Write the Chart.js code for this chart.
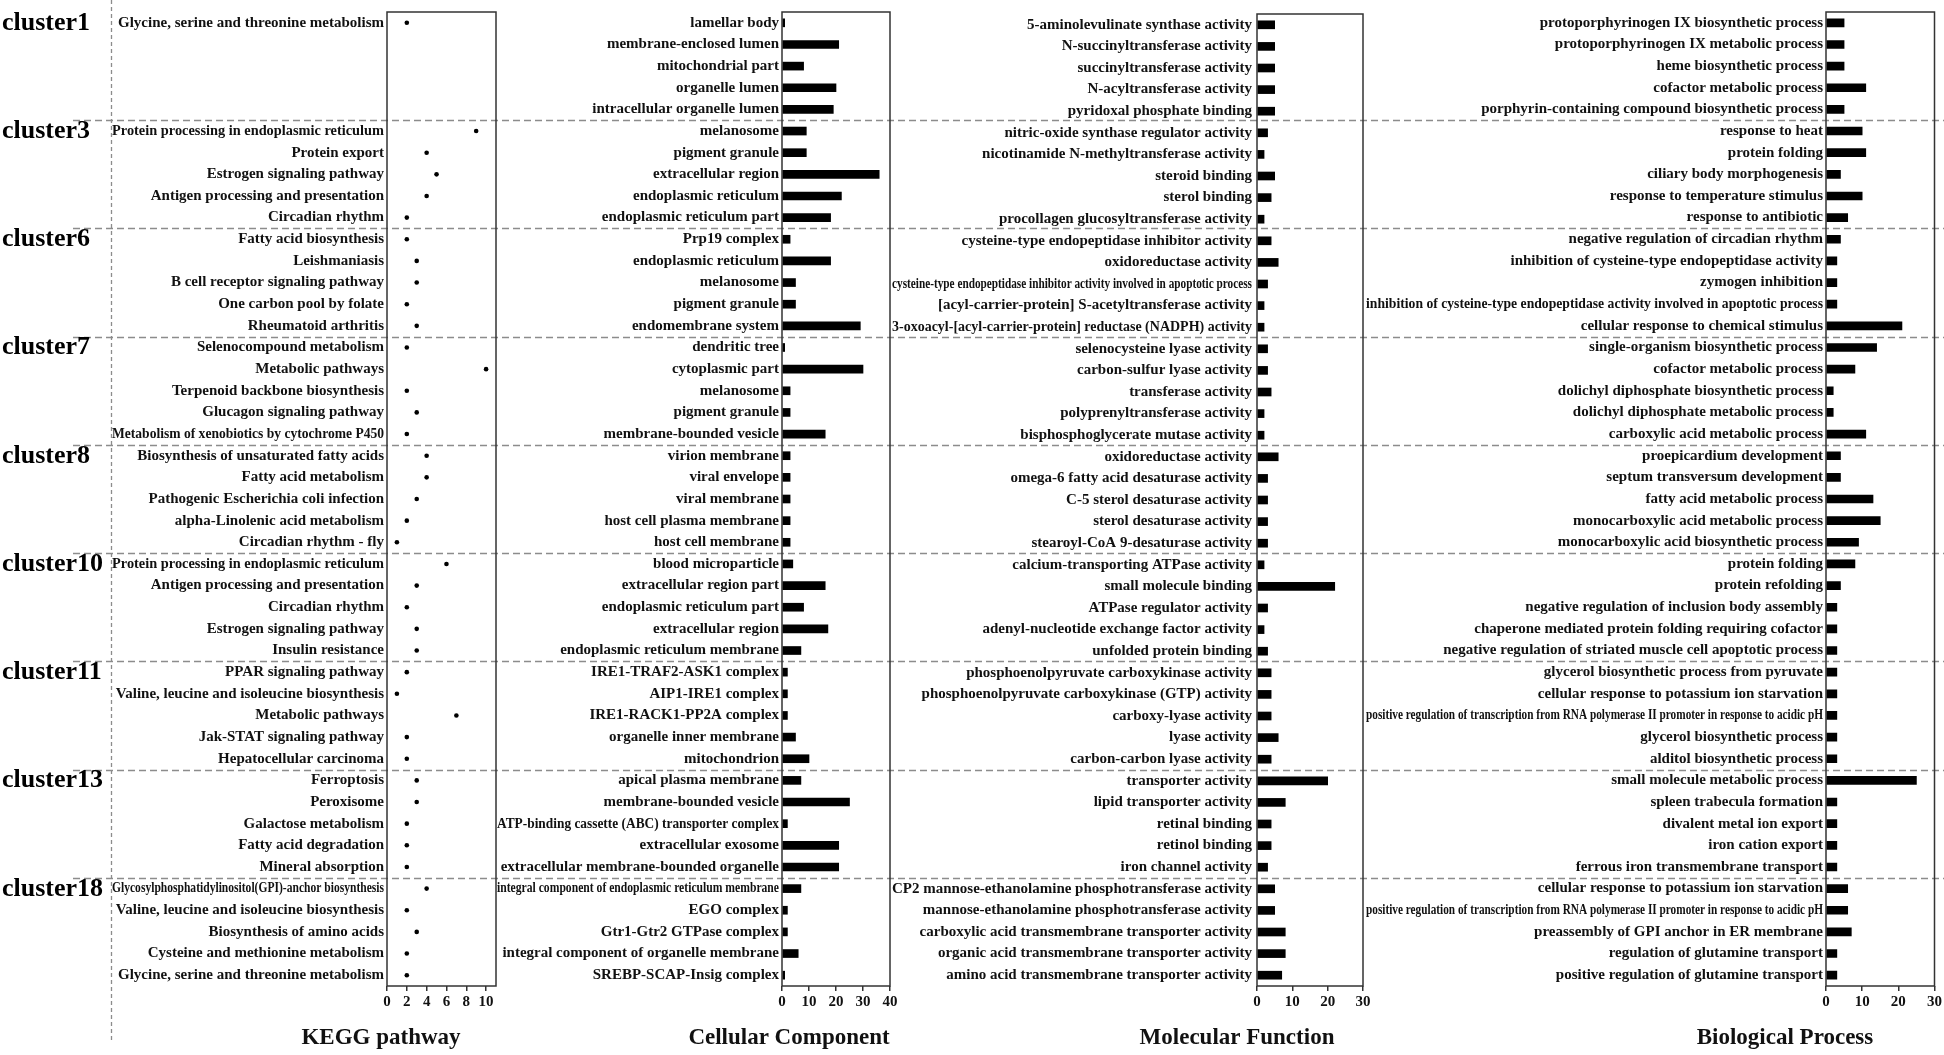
<!DOCTYPE html>
<html>
<head>
<meta charset="utf-8">
<title>KEGG and GO enrichment by cluster</title>
<script src="https://cdn.jsdelivr.net/npm/chart.js@4.4.1/dist/chart.umd.min.js"></script>
<style>
  html, body { margin: 0; padding: 0; background: #fff; }
  #wrap { position: relative; width: 1944px; height: 1055px; }
  #wrap canvas { position: absolute; left: 0; top: 0; }
</style>
</head>
<body>
<div id="wrap">
  <canvas id="keggChart" width="1944" height="1055"></canvas>
  <canvas id="ccChart" width="1944" height="1055"></canvas>
  <canvas id="mfChart" width="1944" height="1055"></canvas>
  <canvas id="bpChart" width="1944" height="1055"></canvas>
</div>
<script>
// ---- data ----
const clusters = ['cluster1', 'cluster3', 'cluster6', 'cluster7', 'cluster8', 'cluster10', 'cluster11', 'cluster13', 'cluster18'];

const keggTerms = [
  ['Glycine, serine and threonine metabolism', '', '', '', ''],
  ['Protein processing in endoplasmic reticulum', 'Protein export', 'Estrogen signaling pathway', 'Antigen processing and presentation', 'Circadian rhythm'],
  ['Fatty acid biosynthesis', 'Leishmaniasis', 'B cell receptor signaling pathway', 'One carbon pool by folate', 'Rheumatoid arthritis'],
  ['Selenocompound metabolism', 'Metabolic pathways', 'Terpenoid backbone biosynthesis', 'Glucagon signaling pathway', 'Metabolism of xenobiotics by cytochrome P450'],
  ['Biosynthesis of unsaturated fatty acids', 'Fatty acid metabolism', 'Pathogenic Escherichia coli infection', 'alpha-Linolenic acid metabolism', 'Circadian rhythm - fly'],
  ['Protein processing in endoplasmic reticulum', 'Antigen processing and presentation', 'Circadian rhythm', 'Estrogen signaling pathway', 'Insulin resistance'],
  ['PPAR signaling pathway', 'Valine, leucine and isoleucine biosynthesis', 'Metabolic pathways', 'Jak-STAT signaling pathway', 'Hepatocellular carcinoma'],
  ['Ferroptosis', 'Peroxisome', 'Galactose metabolism', 'Fatty acid degradation', 'Mineral absorption'],
  ['Glycosylphosphatidylinositol(GPI)-anchor biosynthesis', 'Valine, leucine and isoleucine biosynthesis', 'Biosynthesis of amino acids', 'Cysteine and methionine metabolism', 'Glycine, serine and threonine metabolism']
];
const keggCounts = [
  [2, null, null, null, null], [9, 4, 5, 4, 2], [2, 3, 3, 2, 3], [2, 10, 2, 3, 2], [4, 4, 3, 2, 1],
  [6, 3, 2, 3, 3], [2, 1, 7, 2, 2], [3, 3, 2, 2, 2], [4, 2, 3, 2, 2]
];
const keggTicks = [0, 2, 4, 6, 8, 10];

const ccTerms = [
  ['lamellar body', 'membrane-enclosed lumen', 'mitochondrial part', 'organelle lumen', 'intracellular organelle lumen'],
  ['melanosome', 'pigment granule', 'extracellular region', 'endoplasmic reticulum', 'endoplasmic reticulum part'],
  ['Prp19 complex', 'endoplasmic reticulum', 'melanosome', 'pigment granule', 'endomembrane system'],
  ['dendritic tree', 'cytoplasmic part', 'melanosome', 'pigment granule', 'membrane-bounded vesicle'],
  ['virion membrane', 'viral envelope', 'viral membrane', 'host cell plasma membrane', 'host cell membrane'],
  ['blood microparticle', 'extracellular region part', 'endoplasmic reticulum part', 'extracellular region', 'endoplasmic reticulum membrane'],
  ['IRE1-TRAF2-ASK1 complex', 'AIP1-IRE1 complex', 'IRE1-RACK1-PP2A complex', 'organelle inner membrane', 'mitochondrion'],
  ['apical plasma membrane', 'membrane-bounded vesicle', 'ATP-binding cassette (ABC) transporter complex', 'extracellular exosome', 'extracellular membrane-bounded organelle'],
  ['integral component of endoplasmic reticulum membrane', 'EGO complex', 'Gtr1-Gtr2 GTPase complex', 'integral component of organelle membrane', 'SREBP-SCAP-Insig complex']
];
const ccCounts = [
  [1, 21, 8, 20, 19], [9, 9, 36, 22, 18], [3, 18, 5, 5, 29], [1, 30, 3, 3, 16], [3, 3, 3, 3, 3],
  [4, 16, 8, 17, 7], [2, 2, 2, 5, 10], [7, 25, 2, 21, 21], [7, 2, 2, 6, 1]
];
const ccTicks = [0, 10, 20, 30, 40];

const mfTerms = [
  ['5-aminolevulinate synthase activity', 'N-succinyltransferase activity', 'succinyltransferase activity', 'N-acyltransferase activity', 'pyridoxal phosphate binding'],
  ['nitric-oxide synthase regulator activity', 'nicotinamide N-methyltransferase activity', 'steroid binding', 'sterol binding', 'procollagen glucosyltransferase activity'],
  ['cysteine-type endopeptidase inhibitor activity', 'oxidoreductase activity', 'cysteine-type endopeptidase inhibitor activity involved in apoptotic process', '[acyl-carrier-protein] S-acetyltransferase activity', '3-oxoacyl-[acyl-carrier-protein] reductase (NADPH) activity'],
  ['selenocysteine lyase activity', 'carbon-sulfur lyase activity', 'transferase activity', 'polyprenyltransferase activity', 'bisphosphoglycerate mutase activity'],
  ['oxidoreductase activity', 'omega-6 fatty acid desaturase activity', 'C-5 sterol desaturase activity', 'sterol desaturase activity', 'stearoyl-CoA 9-desaturase activity'],
  ['calcium-transporting ATPase activity', 'small molecule binding', 'ATPase regulator activity', 'adenyl-nucleotide exchange factor activity', 'unfolded protein binding'],
  ['phosphoenolpyruvate carboxykinase activity', 'phosphoenolpyruvate carboxykinase (GTP) activity', 'carboxy-lyase activity', 'lyase activity', 'carbon-carbon lyase activity'],
  ['transporter activity', 'lipid transporter activity', 'retinal binding', 'retinol binding', 'iron channel activity'],
  ['CP2 mannose-ethanolamine phosphotransferase activity', 'mannose-ethanolamine phosphotransferase activity', 'carboxylic acid transmembrane transporter activity', 'organic acid transmembrane transporter activity', 'amino acid transmembrane transporter activity']
];
const mfCounts = [
  [5, 5, 5, 5, 5], [3, 2, 5, 4, 2], [4, 6, 3, 2, 2], [3, 3, 4, 2, 2], [6, 3, 3, 3, 3],
  [2, 22, 3, 2, 3], [4, 4, 4, 6, 4], [20, 8, 4, 4, 3], [5, 5, 8, 8, 7]
];
const mfTicks = [0, 10, 20, 30];

const bpTerms = [
  ['protoporphyrinogen IX biosynthetic process', 'protoporphyrinogen IX metabolic process', 'heme biosynthetic process', 'cofactor metabolic process', 'porphyrin-containing compound biosynthetic process'],
  ['response to heat', 'protein folding', 'ciliary body morphogenesis', 'response to temperature stimulus', 'response to antibiotic'],
  ['negative regulation of circadian rhythm', 'inhibition of cysteine-type endopeptidase activity', 'zymogen inhibition', 'inhibition of cysteine-type endopeptidase activity involved in apoptotic process', 'cellular response to chemical stimulus'],
  ['single-organism biosynthetic process', 'cofactor metabolic process', 'dolichyl diphosphate biosynthetic process', 'dolichyl diphosphate metabolic process', 'carboxylic acid metabolic process'],
  ['proepicardium development', 'septum transversum development', 'fatty acid metabolic process', 'monocarboxylic acid metabolic process', 'monocarboxylic acid biosynthetic process'],
  ['protein folding', 'protein refolding', 'negative regulation of inclusion body assembly', 'chaperone mediated protein folding requiring cofactor', 'negative regulation of striated muscle cell apoptotic process'],
  ['glycerol biosynthetic process from pyruvate', 'cellular response to potassium ion starvation', 'positive regulation of transcription from RNA polymerase II promoter in response to acidic pH', 'glycerol biosynthetic process', 'alditol biosynthetic process'],
  ['small molecule metabolic process', 'spleen trabecula formation', 'divalent metal ion export', 'iron cation export', 'ferrous iron transmembrane transport'],
  ['cellular response to potassium ion starvation', 'positive regulation of transcription from RNA polymerase II promoter in response to acidic pH', 'preassembly of GPI anchor in ER membrane', 'regulation of glutamine transport', 'positive regulation of glutamine transport']
];
const bpCounts = [
  [5, 5, 5, 11, 5], [10, 11, 4, 10, 6], [4, 3, 3, 3, 21], [14, 8, 2, 2, 11], [4, 4, 13, 15, 9],
  [8, 4, 3, 3, 3], [3, 3, 3, 3, 3], [25, 3, 3, 3, 3], [6, 6, 7, 3, 3]
];
const bpTicks = [0, 10, 20, 30];

// ---- layout ----
const SERIF = "'Liberation Serif', 'Times New Roman', serif";
const ROWS = 5;
const LABEL_FONT = 15;
Chart.defaults.font.family = SERIF;
Chart.defaults.color = '#111';

// terms too long for the label column are squeezed sideways, like in the figure
const measure = document.createElement('canvas').getContext('2d');
function labelWidth(label, weight) {
  measure.font = weight + ' ' + LABEL_FONT + 'px ' + SERIF;
  return measure.measureText(label).width;
}
function fits(label, avail) {
  return labelWidth(label, 'bold') <= avail;
}

const squeezedLabels = {
  id: 'squeezedLabels',
  afterDraw(chart, args, opts) {
    const { ctx, chartArea: a } = chart;
    const y = chart.scales.y;
    const right = a.left - opts.pad;
    ctx.save();
    ctx.fillStyle = '#111';
    ctx.textAlign = 'right';
    ctx.textBaseline = 'middle';
    chart.data.labels.forEach((label, i) => {
      if (!label || fits(label, opts.avail)) return;
      let weight = 'bold';
      let sx = opts.avail / labelWidth(label, 'bold');
      if (sx < 0.75) {
        weight = 'normal';
        sx = Math.min(1, opts.avail / labelWidth(label, 'normal'));
      }
      ctx.save();
      ctx.font = weight + ' ' + LABEL_FONT + 'px ' + SERIF;
      ctx.translate(right, y.getPixelForTick(i));
      ctx.scale(sx, 1);
      ctx.fillText(label, 0, 0);
      ctx.restore();
    });
    ctx.restore();
  }
};

const framePlugin = {
  id: 'frame',
  afterDatasetsDraw(chart) {
    const { ctx, chartArea: a } = chart;
    ctx.save();
    ctx.strokeStyle = '#333';
    ctx.lineWidth = 1.5;
    ctx.strokeRect(a.left, a.top, a.right - a.left, a.bottom - a.top);
    ctx.restore();
  },
  afterDraw(chart, args, opts) {
    const { ctx, chartArea: a } = chart;
    ctx.save();
    ctx.font = 'bold 23px ' + SERIF;
    ctx.fillStyle = '#111';
    ctx.textAlign = 'center';
    ctx.textBaseline = 'middle';
    ctx.fillText(opts.text, a.left + opts.dx, 1038);
    ctx.restore();
  }
};

// dashed cluster separators + cluster names, drawn once on the bottom canvas
const clusterPlugin = {
  id: 'clusterBands',
  beforeDatasetsDraw(chart) {
    const { ctx } = chart;
    const y = chart.scales.y;
    ctx.save();
    ctx.strokeStyle = '#8c8c8c';
    ctx.lineWidth = 1.3;
    ctx.setLineDash([7, 4]);
    for (let k = 1; k < clusters.length; k++) {
      const py = Math.round((y.getPixelForValue(k * ROWS - 1) + y.getPixelForValue(k * ROWS)) / 2) + 0.5;
      ctx.beginPath();
      ctx.moveTo(73, py);
      ctx.lineTo(chart.width, py);
      ctx.stroke();
    }
    ctx.setLineDash([4, 3]);
    ctx.beginPath();
    ctx.moveTo(111.5, 0);
    ctx.lineTo(111.5, 1042);
    ctx.stroke();
    ctx.setLineDash([]);
    ctx.font = 'bold 26px ' + SERIF;
    ctx.fillStyle = '#000';
    ctx.textAlign = 'left';
    ctx.textBaseline = 'alphabetic';
    clusters.forEach((c, k) => ctx.fillText(c, 2, y.getPixelForValue(k * ROWS) + 7));
    ctx.restore();
  }
};

const panels = {
  kegg: { title: 'KEGG pathway', left: 111, labelWidth: 276, right: 1448, max: 11, labelPad: 3, titleDx: -6 },
  cc: { title: 'Cellular Component', left: 496, labelWidth: 286, right: 1054, max: 40, labelPad: 3, titleDx: 7 },
  mf: { title: 'Molecular Function', left: 891, labelWidth: 366, right: 581, max: 30, labelPad: 5, titleDx: -20 },
  bp: { title: 'Biological Process', left: 1365, labelWidth: 461, right: 9, max: 30, labelPad: 3, titleDx: -41 }
};

function makeChart(id, type, terms, counts, tickValues, cfg, extra) {
  const labels = terms.flat();
  const values = counts.flat();
  const avail = cfg.labelWidth - cfg.labelPad - 1;
  const dataset = type === 'bar'
    ? { data: values, backgroundColor: '#000', barThickness: 8 }
    : { data: values, showLine: false, pointRadius: 2.3, pointBackgroundColor: '#000', pointBorderWidth: 0 };
  return new Chart(document.getElementById(id), {
    type: type,
    data: { labels: labels, datasets: [dataset] },
    options: {
      indexAxis: 'y',
      responsive: false,
      animation: false,
      devicePixelRatio: 1,
      layout: { padding: { left: cfg.left, right: cfg.right, top: 4, bottom: 29 } },
      plugins: {
        legend: { display: false },
        tooltip: { enabled: false },
        frame: { text: cfg.title, dx: cfg.titleDx },
        squeezedLabels: { avail: avail, pad: cfg.labelPad }
      },
      scales: {
        x: {
          type: 'linear', min: 0, max: cfg.max,
          grid: { display: true, drawOnChartArea: false, drawTicks: true, tickLength: 5, color: '#333', lineWidth: 1.5 },
          border: { display: false },
          ticks: { padding: 2, maxRotation: 0, color: '#111', font: { size: 15, weight: 'bold' } },
          afterBuildTicks: s => { s.ticks = tickValues.map(v => ({ value: v })); },
          afterFit: s => { s.height = 40; }
        },
        y: {
          type: 'category', offset: true,
          grid: { display: false, drawTicks: false },
          border: { display: false },
          ticks: {
            autoSkip: false, padding: cfg.labelPad, color: '#111',
            font: { size: LABEL_FONT, weight: 'bold' },
            callback: function (value) {
              const label = this.getLabelForValue(value);
              return fits(label, avail) ? label : '';
            }
          },
          afterFit: s => { s.width = cfg.labelWidth; }
        }
      }
    },
    plugins: [framePlugin, squeezedLabels].concat(extra || [])
  });
}

makeChart('keggChart', 'line', keggTerms, keggCounts, keggTicks, panels.kegg, [clusterPlugin]);
makeChart('ccChart', 'bar', ccTerms, ccCounts, ccTicks, panels.cc);
makeChart('mfChart', 'bar', mfTerms, mfCounts, mfTicks, panels.mf);
makeChart('bpChart', 'bar', bpTerms, bpCounts, bpTicks, panels.bp);
</script>
</body>
</html>
